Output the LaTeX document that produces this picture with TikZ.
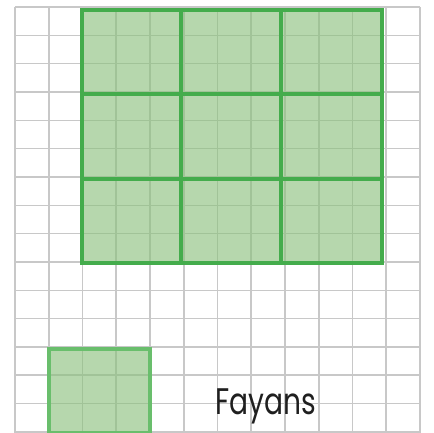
\documentclass[tikz,border=0pt]{standalone}
\usepackage{fontspec}
\setmainfont{Poppins}
\definecolor{gridc}{RGB}{200,200,200}
\definecolor{tilefill}{RGB}{138,192,123}
\definecolor{tileedge}{RGB}{68,172,76}
\definecolor{tileedgelight}{RGB}{105,190,108}
\tikzset{
  gridline/.style={draw=gridc, line width=1.6pt},
  bigtile/.style={fill=tilefill, fill opacity=0.62, draw=tileedge, draw opacity=1, line width=3.2pt},
  smalltile/.style={fill=tilefill, fill opacity=0.62, draw=tileedgelight, draw opacity=1, line width=3.2pt},
  label/.style={text=black!88, font=\fontsize{37}{37}\selectfont, inner sep=0pt, anchor=base west}
}
\begin{document}
\begin{tikzpicture}[x=1pt,y=-1pt]
\useasboundingbox (0,0) rectangle (433,433);
\fill[white] (0,0) rectangle (433,433);
% grid
\foreach \i in {0,...,12} {
  \draw[gridline] ({15+\i*33.75},7) -- ({15+\i*33.75},433);
}
\foreach \j in {0,...,15} {
  \draw[gridline] (15,{7+\j*28.33}) -- (420,{7+\j*28.33});
}
% big 3x3 tiles
\foreach \xa/\xb in {82/181,181/281,281/382} {
  \foreach \ya/\yb in {10/94,94/179,179/263} {
    \draw[bigtile] (\xa,\ya) rectangle (\xb,\yb);
  }
}
% small tile
\draw[smalltile] (49,349) rectangle (150,433);
% label
\node[label] (fayans) at (215,414) {\scalebox{0.76}[1]{Fayans}};
\end{tikzpicture}
\end{document}
